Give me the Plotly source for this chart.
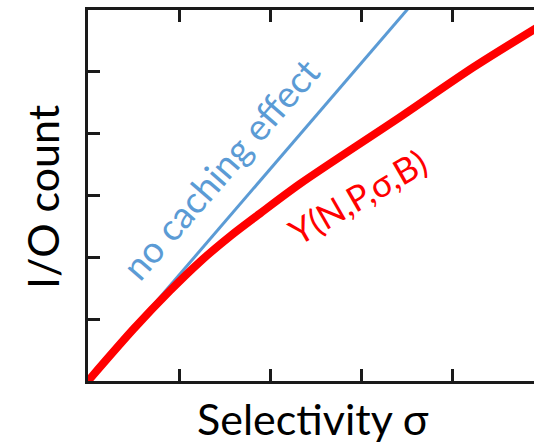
import plotly.graph_objects as go

# Selectivity (x) and I/O count (y) readings from the picture
sel_nocache = [0.0, 4.0]
io_nocache = [0.0, 6.85]

sel_cached = [0.0, 0.5, 0.9, 1.231, 1.56, 1.89, 2.33, 3.43, 4.24, 4.95]
io_cached = [0.0, 0.84, 1.46, 1.93, 2.34, 2.71, 3.19, 4.27, 5.08, 5.73]

x_ticks = [1, 2, 3, 4]
y_ticks = [1, 2, 3, 4, 5]

label_nocache = "no caching effect"
label_cached = "Y(N,P,σ,B)"
x_title = "Selectivity σ"
y_title = "I/O count"

FONT = "Lato"
BLUE = "#5B9BD5"
RED = "#FF0000"

fig = go.Figure()
fig.add_trace(go.Scatter(x=sel_nocache, y=io_nocache, mode="lines",
                         line=dict(color=BLUE, width=3), hoverinfo="skip"))
fig.add_trace(go.Scatter(x=sel_cached, y=io_cached, mode="lines",
                         line=dict(color=RED, width=8, shape="spline", smoothing=0.8),
                         hoverinfo="skip"))

fig.add_annotation(x=1.45, y=3.44, text=label_nocache, showarrow=False,
                   textangle=-49, font=dict(family=FONT, size=37, color=BLUE))
fig.add_annotation(x=2.96, y=3.0, text=label_cached, showarrow=False,
                   textangle=-30, font=dict(family=FONT, size=35, color=RED))

fig.add_annotation(xref="paper", yref="paper", x=0.504, y=-0.10, text=x_title,
                   showarrow=False, yanchor="middle",
                   font=dict(family=FONT, size=43, color="black"))
fig.add_annotation(xref="paper", yref="paper", x=-0.101, y=0.496, text=y_title,
                   showarrow=False, textangle=-90, xanchor="center", yanchor="middle",
                   font=dict(family=FONT, size=43, color="black"))

axis_common = dict(showgrid=False, zeroline=False, showline=True, linecolor="#1a1a1a",
                   linewidth=3, ticks="inside", ticklen=12, tickwidth=3,
                   tickcolor="#1a1a1a", showticklabels=False)

fig.update_xaxes(range=[0, 4.9], tickvals=x_ticks, mirror="ticks", **axis_common)
fig.update_yaxes(range=[0, 6], tickvals=y_ticks, mirror=False, **axis_common)

fig.update_layout(width=534, height=445, margin=dict(l=88, r=0, t=10, b=64),
                  plot_bgcolor="white", paper_bgcolor="white", showlegend=False)

fig.write_html("out.html", config={"displayModeBar": False})
